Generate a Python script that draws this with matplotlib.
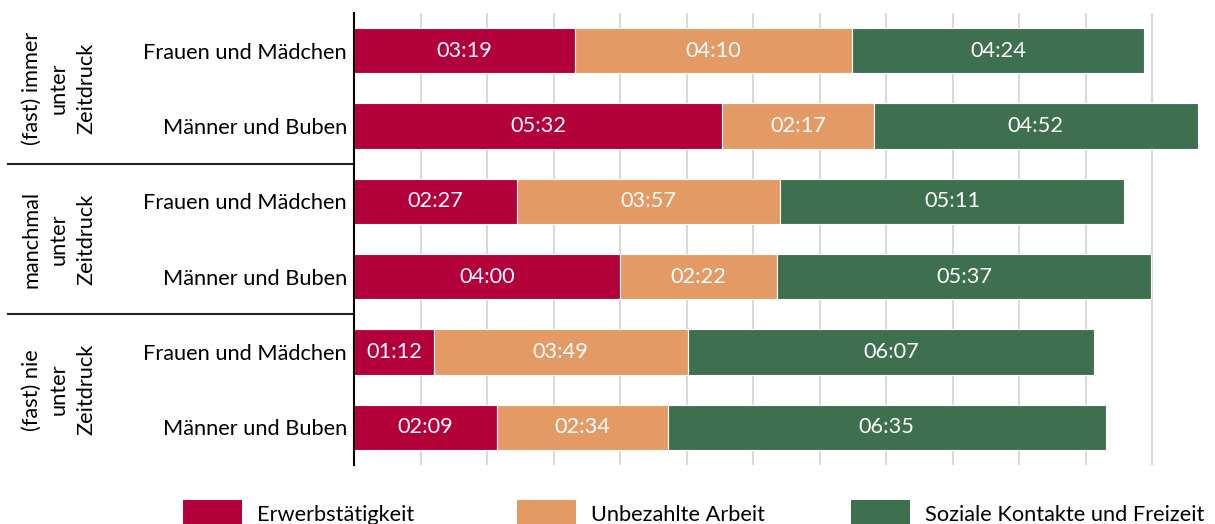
import matplotlib
matplotlib.use("Agg")
import matplotlib.pyplot as plt
import matplotlib.transforms as mtransforms
from matplotlib.patches import Patch

plt.rcParams['font.family'] = ['Lato', 'DejaVu Sans']

# Daten (Stunden:Minuten pro Tag)
groups = ["(fast) immer\nunter\nZeitdruck", "manchmal\nunter\nZeitdruck", "(fast) nie\nunter\nZeitdruck"]
categories = ["Frauen und Mädchen", "Männer und Buben"] * 3
erwerb = ["03:19", "05:32", "02:27", "04:00", "01:12", "02:09"]
unbezahlt = ["04:10", "02:17", "03:57", "02:22", "03:49", "02:34"]
sozial = ["04:24", "04:52", "05:11", "05:37", "06:07", "06:35"]
series_names = ["Erwerbstätigkeit", "Unbezahlte Arbeit", "Soziale Kontakte und Freizeit"]
colors = ["#B4003A", "#E39A65", "#3E7050"]

FS = 15.7


def to_hours(s):
    h, m = s.split(":")
    return int(h) + int(m) / 60


fig = plt.figure(figsize=(12.15, 5.24), dpi=100)
ax = fig.add_axes([354 / 1215, 1 - 465 / 524, 858 / 1215, 452 / 524])

y = list(range(len(categories)))
left = [0.0] * len(categories)
for name, vals, col in zip(series_names, [erwerb, unbezahlt, sozial], colors):
    w = [to_hours(v) for v in vals]
    ax.barh(y, w, left=left, height=0.6, color=col, edgecolor='white', linewidth=0.8, zorder=2)
    for yi, l, wi, txt in zip(y, left, w, vals):
        ax.text(l + wi / 2, yi, txt, ha='center', va='center', color='white', fontsize=FS, zorder=3)
    left = [a + b for a, b in zip(left, w)]

ax.set_xlim(0, 12.9)
ax.set_ylim(5.5, -0.5)
ax.set_xticks(range(1, 13))
ax.set_xticklabels([])
ax.tick_params(axis='x', length=0)
ax.grid(axis='x', color='#D9D9D9', linewidth=1.5, zorder=0)
ax.set_axisbelow(True)
ax.set_yticks(y)
ax.set_yticklabels(categories, fontsize=FS)
ax.tick_params(axis='y', length=0, pad=5)
for s in ['top', 'right', 'bottom']:
    ax.spines[s].set_visible(False)
ax.spines['left'].set_linewidth(1.5)

# Gruppentrennlinien und Gruppenbeschriftung
trans = mtransforms.blended_transform_factory(ax.transAxes, ax.transData)
x_left = -(354 - 8) / 858
for yy in [1.5, 3.5]:
    ax.plot([x_left, 0], [yy, yy], color='#222222', linewidth=1.5, transform=trans, clip_on=False)
for gi, g in enumerate(groups):
    ax.text(-(354 - 59) / 858, gi * 2 + 0.5, g, rotation=90, ha='center', va='center',
            multialignment='center', fontsize=FS, transform=trans, linespacing=1.45)

# Legende
legend_x = [183, 517, 851]
for name, col, lx in zip(series_names, colors, legend_x):
    fig.legend(handles=[Patch(facecolor=col, edgecolor='none')], labels=[name],
               loc='center left', bbox_to_anchor=(lx / 1215, 1 - 514 / 524),
               frameon=False, fontsize=FS, handlelength=2.7, handleheight=1.65,
               handletextpad=0.69, borderpad=0, borderaxespad=0)

fig.savefig("out.png", dpi=100)
